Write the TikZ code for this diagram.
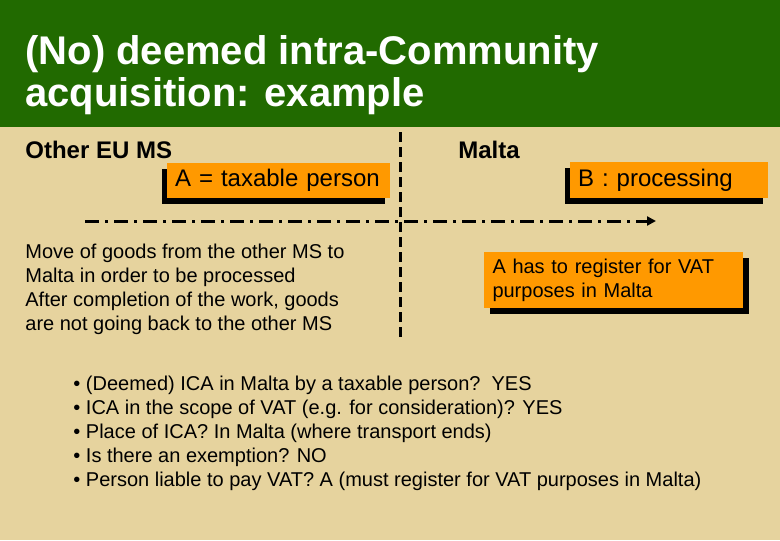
\documentclass[tikz,border=0pt]{standalone}
\usepackage{fontspec}
\setmainfont{Liberation Sans}
\usepackage{tikz}
\usetikzlibrary{positioning, arrows.meta, shadows}
\definecolor{titlegreen}{RGB}{33,106,0}
\definecolor{slidetan}{RGB}{230,211,158}
\definecolor{boxorange}{RGB}{255,153,0}

\begin{document}
\begin{tikzpicture}[
    x=0.5pt, y=-0.5pt,
    every node/.style={font=\fontsize{10}{12}\selectfont, inner sep=0pt},
    box/.style={fill=boxorange, align=left, inner xsep=4pt, anchor=center},
    shadowleft/.style={general shadow={fill=black, shadow xshift=-2.75pt, shadow yshift=-3pt}},
    shadowright/.style={general shadow={fill=black, shadow xshift=3pt, shadow yshift=-3pt}},
    heading/.style={font=\fontsize{12}{14}\selectfont\bfseries, anchor=base west},
    txt/.style={align=left, anchor=north west},
    border/.style={line width=1.5pt, dash pattern=on 5pt off 2.5pt},
    flow/.style={line width=1.5pt, dash pattern=on 7pt off 3pt on 1.5pt off 3pt,
                 -{Triangle[length=4.5pt, width=4.5pt]}}
]
% Background and title band
\fill[slidetan] (0,0) rectangle (780,540);
\fill[titlegreen] (0,0) rectangle (780,127);
\node[txt, text=white, font=\fontsize{20}{21}\selectfont\bfseries] (title) at (25,35)
    {(No) deemed intra-Community\\acquisition: example};

% Country headings
\node[heading] (otherms) at (25,158) {Other EU MS};
\node[heading] (malta) at (458,158) {Malta};

% Border and flow of goods
\coordinate (bordertop) at (400,132);
\coordinate (borderbot) at (400,338);
\draw[border] (bordertop) -- (borderbot);
\coordinate (flowstart) at (85,221);
\coordinate (flowend) at (656,221);
\draw[flow] (flowstart) -- (flowend);

% Parties
\node[box, shadowleft, minimum width=111.5pt, minimum height=17.5pt, text width=103.5pt,
      font=\fontsize{12}{14}\selectfont] (partya) at (278.5,180.5) {\raisebox{-1pt}{A = taxable person}};
\node[box, shadowleft, minimum width=99pt, minimum height=18pt, text width=91pt,
      font=\fontsize{12}{14}\selectfont] (partyb) at (669,180) {\raisebox{-1pt}{B : processing}};

% Facts and consequence
\node[txt] (facts) at (25,244) {Move of goods from the other MS to\\
    Malta in order to be processed\\
    After completion of the work, goods\\
    are not going back to the other MS};
\node[box, shadowright, minimum width=129.5pt, minimum height=28pt, text width=121pt,
      inner xsep=4.25pt] (register) at (613.5,280)
    {A has to register for VAT\\purposes in Malta};

% Analysis
\node[txt] (analysis) at (73,376) {%
    \textbullet\ (Deemed) ICA in Malta by a taxable person?\ \ YES\\
    \textbullet\ ICA in the scope of VAT (e.g. for consideration)? YES\\
    \textbullet\ Place of ICA? In Malta (where transport ends)\\
    \textbullet\ Is there an exemption? NO\\
    \textbullet\ Person liable to pay VAT? A (must register for VAT purposes in Malta)};
\end{tikzpicture}
\end{document}
